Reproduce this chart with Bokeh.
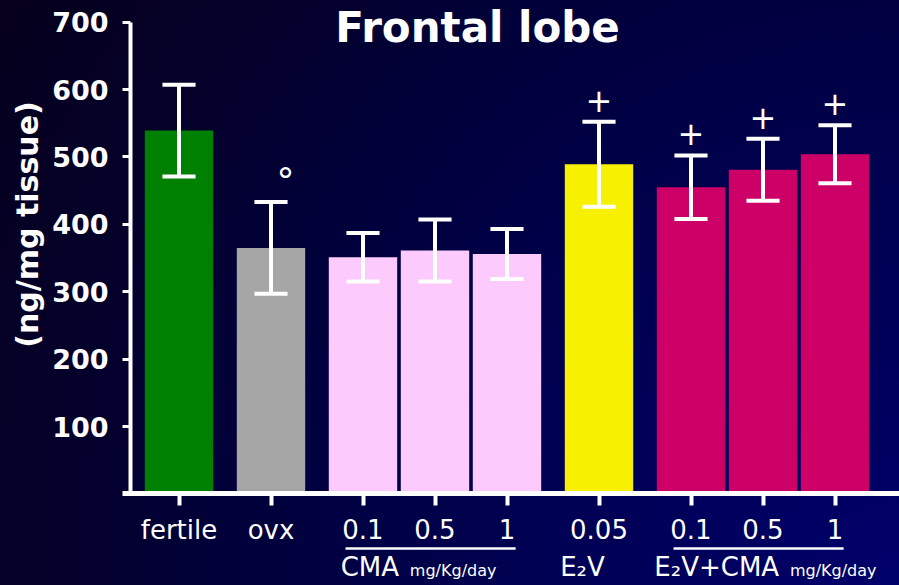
import math
from bokeh.plotting import figure
from bokeh.models import Range1d, FixedTicker, Label, ColumnDataSource, GlobalInlineStyleSheet
from bokeh.core.properties import value
from bokeh.embed import file_html
from bokeh.resources import INLINE

# ---------------- data ----------------
tick_labels = ["fertile", "ovx", "0.1", "0.5", "1", "0.05", "0.1", "0.5", "1"]
group_of_bar = [0, 1, 2, 2, 2, 3, 4, 4, 4]
means = [539, 365, 351, 361, 356, 489, 455, 481, 504]
sems = [68, 68, 36, 46, 37, 63, 47, 46, 43]
signif = ["", "°", "", "", "", "+", "+", "+", "+"]
bar_colors = ["#008000", "#a6a6a6", "#fccafc", "#fccafc", "#fccafc",
              "#f7f000", "#cc0066", "#cc0066", "#cc0066"]
group_names = ["", "", "CMA", "E\u2082V", "E\u2082V+CMA"]
group_units = ["", "", "mg/Kg/day", "", "mg/Kg/day"]
y_ticks = [100, 200, 300, 400, 500, 600, 700]
title_text = "Frontal lobe"
y_label_text = "(ng/mg tissue)"

# ---------------- layout constants ----------------
W, H = 899, 585
PX_X = 72.0           # pixels per x unit
PX_Y = 0.674          # pixels per y unit
X0_PX = 178.5         # pixel of x = 0
Y0_PX = 493.4         # pixel of y = 0
STEP = 1.0            # step between bars inside a group
GROUP_STEP = 92 / 72  # step between bars of different groups
BAR_W = 0.95
CAP_HALF = 0.23
SIGN_OFFSET = 32      # data units above the upper whisker
SIGN_DX = {"°": 0.2, "+": 0.0, "": 0.0}
SIGN_SIZE = {"°": "36px", "+": "32px", "": "30px"}
YAXIS_X = (130 - X0_PX) / PX_X
XAXIS_LEFT = (122 - X0_PX) / PX_X
GROUP_DX = [0, 0, -0.424, -0.229, 0.299]
HALF_GAP = 0.075
UL_LEFT, UL_RIGHT = -0.243, 0.12
ROW2_BASE_PX = 576
UNDERLINE_Y = -81
BASELINE_FIX = 0.38   # label anchor sits this many em above the real baseline
FONT = "DejaVu Sans"
WHITE = "#ffffff"


def y_for_baseline(px, size):
    return (Y0_PX - (px - BASELINE_FIX * size)) / PX_Y


x = []
pos = 0.0
for i, g in enumerate(group_of_bar):
    if i > 0:
        pos += STEP if g == group_of_bar[i - 1] else GROUP_STEP
    x.append(pos)

lo = [m - s for m, s in zip(means, sems)]
hi = [m + s for m, s in zip(means, sems)]

src = ColumnDataSource(dict(
    x=x, top=means, color=bar_colors, lo=lo, hi=hi,
    cap_l=[xi - CAP_HALF for xi in x], cap_r=[xi + CAP_HALF for xi in x],
    sign=signif,
    sign_x=[xi + SIGN_DX[s] for xi, s in zip(x, signif)],
    sign_y=[h + SIGN_OFFSET for h in hi],
    sign_size=[SIGN_SIZE[s] for s in signif],
))

bg_css = """
html { height: 100%;
  background: radial-gradient(circle farthest-corner at 100% 100%,
     #00006a 0%, #000052 35%, #00003c 60%, #04002a 80%, #06001c 100%) no-repeat fixed;
  background-color: #020033; }
"""

x_range = Range1d(-X0_PX / PX_X, (W - X0_PX) / PX_X)
y_range = Range1d(-(H - Y0_PX) / PX_Y, Y0_PX / PX_Y)

p = figure(width=W, height=H, output_backend="svg", toolbar_location=None,
           x_range=x_range, y_range=y_range, min_border=0)
p.stylesheets = [GlobalInlineStyleSheet(css=bg_css)]
p.border_fill_alpha = 0
p.background_fill_alpha = 0
p.outline_line_color = None
p.grid.visible = False
p.title.text = ""

# bars
p.vbar(x="x", top="top", width=BAR_W, fill_color="color", line_color=None, source=src)
# error bars
p.segment(x0="x", y0="lo", x1="x", y1="hi", line_color=WHITE, line_width=4, source=src)
p.segment(x0="cap_l", y0="hi", x1="cap_r", y1="hi", line_color=WHITE, line_width=4, source=src)
p.segment(x0="cap_l", y0="lo", x1="cap_r", y1="lo", line_color=WHITE, line_width=4, source=src)
# significance marks
p.text(x="sign_x", y="sign_y", text="sign", text_font=value(FONT), text_font_size="sign_size",
       text_align="center", text_baseline="middle", text_color=WHITE, source=src)

# axes (placed inside the full-canvas frame)
xa = p.xaxis[0]
xa.fixed_location = 0
xa.bounds = (XAXIS_LEFT, x_range.end)
xa.ticker = FixedTicker(ticks=x)
xa.major_label_overrides = {xi: lab for xi, lab in zip(x, tick_labels)}
xa.axis_line_color = WHITE
xa.axis_line_width = 5
xa.major_tick_line_color = WHITE
xa.major_tick_line_width = 4
xa.major_tick_out = 12
xa.major_tick_in = 0
xa.minor_tick_line_color = None
xa.major_label_text_color = WHITE
xa.major_label_text_font = FONT
xa.major_label_text_font_size = "26px"
xa.major_label_standoff = 9

ya = p.yaxis[0]
ya.fixed_location = YAXIS_X
ya.bounds = (0, 700)
ya.ticker = FixedTicker(ticks=y_ticks)
ya.axis_line_color = WHITE
ya.axis_line_width = 4
ya.major_tick_line_color = WHITE
ya.major_tick_line_width = 3
ya.major_tick_out = 8
ya.major_tick_in = 0
ya.minor_tick_line_color = None
ya.major_label_text_color = WHITE
ya.major_label_text_font = FONT
ya.major_label_text_font_style = "bold"
ya.major_label_text_font_size = "27px"
ya.major_label_standoff = 14

# title and y label
p.add_layout(Label(x=(477 - X0_PX) / PX_X, y=y_for_baseline(43, 42), text=title_text,
                   text_align="center", text_baseline="alphabetic", text_color=WHITE,
                   text_font=FONT, text_font_style="bold", text_font_size="42px"))
p.add_layout(Label(x=(27 - X0_PX) / PX_X, y=(Y0_PX - 224) / PX_Y, text=y_label_text,
                   angle=math.pi / 2, text_align="center", text_baseline="middle",
                   text_color=WHITE, text_font=FONT, text_font_style="bold",
                   text_font_size="30px"))

# group labels and underlines
ul_x0, ul_x1, ul_y = [], [], []
for g, (name, units) in enumerate(zip(group_names, group_units)):
    if not name:
        continue
    members = [xi for xi, gg in zip(x, group_of_bar) if gg == g]
    center = sum(members) / len(members)
    anchor = center + GROUP_DX[g]
    if units:
        p.add_layout(Label(x=anchor - HALF_GAP, y=y_for_baseline(ROW2_BASE_PX, 26), text=name,
                           text_align="right", text_baseline="alphabetic", text_color=WHITE,
                           text_font=FONT, text_font_size="26px"))
        p.add_layout(Label(x=anchor + HALF_GAP, y=y_for_baseline(ROW2_BASE_PX, 16), text=units,
                           text_align="left", text_baseline="alphabetic", text_color=WHITE,
                           text_font=FONT, text_font_size="16px"))
    else:
        p.add_layout(Label(x=anchor, y=y_for_baseline(ROW2_BASE_PX, 26), text=name,
                           text_align="center", text_baseline="alphabetic", text_color=WHITE,
                           text_font=FONT, text_font_size="26px"))
    if len(members) > 1:
        ul_x0.append(members[0] + UL_LEFT)
        ul_x1.append(members[-1] + UL_RIGHT)
        ul_y.append(UNDERLINE_Y)

p.segment(x0=ul_x0, y0=ul_y, x1=ul_x1, y1=ul_y, line_color=WHITE, line_width=2.5)

open("out.html", "w").write(file_html(p, INLINE))
